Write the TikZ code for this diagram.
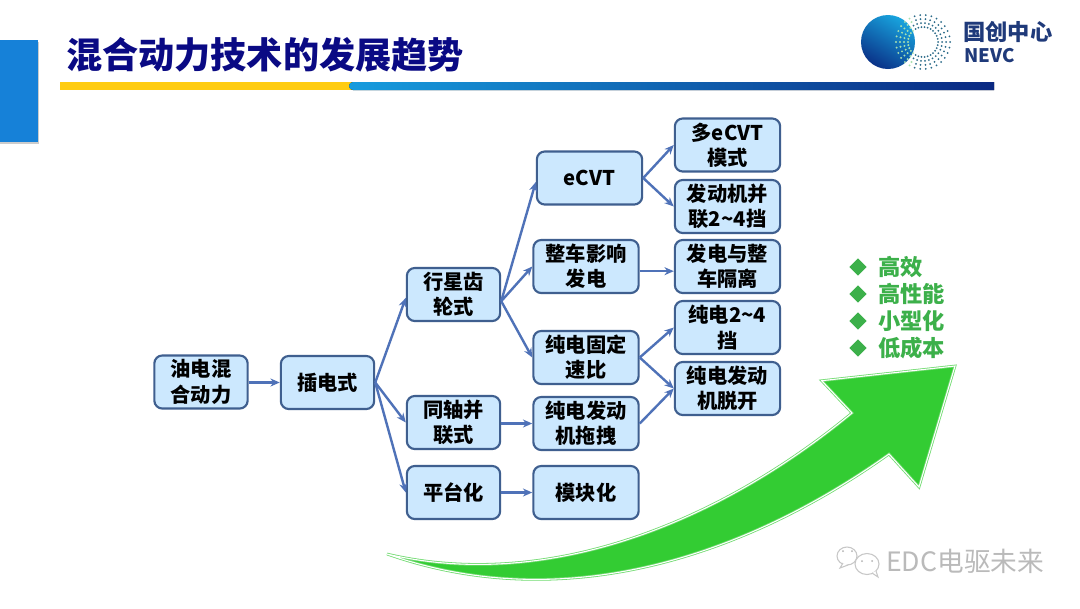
\documentclass[tikz,border=0pt]{standalone}
\usepackage{fontspec}
\setmainfont{Noto Sans CJK SC}
\usetikzlibrary{arrows.meta,shapes.geometric}
\definecolor{boxfill}{HTML}{CCE8FE}
\definecolor{boxline}{HTML}{3F5F8F}
\definecolor{conn}{HTML}{4F72B8}
\definecolor{navy}{HTML}{0A0A84}
\definecolor{bigg}{HTML}{33CC33}
\definecolor{textg}{HTML}{3CB04A}
\definecolor{logotxt}{HTML}{1F3A7A}
\definecolor{sidebar}{HTML}{1681D8}
\definecolor{ruley}{HTML}{FFCC11}
\definecolor{ruleb}{HTML}{169CDE}
\definecolor{ruled}{HTML}{0A2882}
\definecolor{ballb}{HTML}{18A4DE}
\definecolor{balld}{HTML}{0A3288}
\definecolor{dotd}{HTML}{2A6A88}
\definecolor{dotl}{HTML}{A8E0B0}
\tikzset{
  x=0.75pt,y=-0.75pt,
  nbox/.style={draw=boxline,fill=boxfill,line width=1.6pt,rounded corners=6pt,align=center,inner sep=0pt,
     font=\fontsize{15.2}{19}\selectfont\bfseries,text=black,minimum height=39.8pt},
  boxa/.style={nbox,minimum width=70pt},
  boxb/.style={nbox,minimum width=79pt},
  link/.style={draw=conn,line width=1.8pt,-{Stealth[length=7pt,width=6pt]}},
  bullet/.style={diamond,fill=textg,inner sep=0pt,minimum width=13pt,minimum height=13pt},
  gain/.style={text=textg,anchor=west,inner sep=0pt,font=\fontsize{16.7}{20}\selectfont\bfseries},
  wbubble/.style={draw=black!22,line width=0.8pt,fill=white},
}
\begin{document}
\begin{tikzpicture}
\path[use as bounding box,fill=white] (0,0) rectangle (1080,608);
% header
\fill[black!20] (0,42) rectangle (39,144);
\fill[sidebar] (0,40) rectangle (38,142);
\node[anchor=west,inner sep=0pt,text=navy,font=\fontsize{27.1}{30}\selectfont\bfseries] (title) at (66,55) {混合动力技术的发展趋势};
\fill[ruley] (60,82) rectangle (352,90);
\fill[left color=ruleb,right color=ruled] (353,82) arc[start angle=270,end angle=90,radius=4] -- (994,90) -- (994,82) -- cycle;
% logo
\shade[left color=ballb,right color=balld,shading angle=-30] (888,42) circle[radius=27];
\foreach \a in {0,12,...,348}{
  \foreach \r in {15,19,23,27}{
    \pgfmathsetmacro{\dotx}{923+\r*cos(\a)}
    \pgfmathsetmacro{\doty}{42+\r*sin(\a)}
    \ifdim\dotx pt<913pt
      \fill[dotl] (\dotx,\doty) circle[radius=1.1];
    \else
      \fill[dotd] (\dotx,\doty) circle[radius=1.0];
    \fi
  }
}
\node[anchor=west,inner sep=0pt,text=logotxt,font=\fontsize{16.7}{18}\selectfont\bfseries] (lg1) at (963,32) {国创中心};
\node[anchor=west,inner sep=0pt,text=logotxt,font=\fontsize{14}{15}\selectfont\bfseries] (lg2) at (964,56) {NEVC};
% big arrow
\path[fill=bigg,draw=bigg!70!white,line width=2pt,line join=miter]
 (387,554) .. controls (540,590) and (710,530) .. (852,413) -- (821.7,380.7) -- (955,366) -- (919,487) -- (889,454) .. controls (740,560) and (560,615) .. (387,554) -- cycle;
\path[draw=white,line width=0.8pt]
 (387,554) .. controls (540,590) and (710,530) .. (852,413) -- (821.7,380.7) -- (955,366) -- (919,487) -- (889,454) .. controls (740,560) and (560,615) .. (387,554) -- cycle;
% boxes
\node[boxa] (a) at (201,382) {油电混\\合动力};
\node[boxa] (b) at (327.5,382.5) {插电式};
\node[boxa] (c1) at (453.5,294.5) {行星齿\\轮式};
\node[boxa] (c2) at (453.5,422.5) {同轴并\\联式};
\node[boxa] (c3) at (453.5,492.5) {平台化};
\node[boxb] (d1) at (589.5,178) {eCVT};
\node[boxb] (d2) at (586,266.5) {整车影响\\发电};
\node[boxb] (d3) at (586,357.5) {纯电固定\\速比};
\node[boxb] (d4) at (586,423.5) {纯电发动\\机拖拽};
\node[boxb] (d5) at (586,492.5) {模块化};
\node[boxb] (e1) at (727.5,145) {多eCVT\\模式};
\node[boxb] (e2) at (727.5,206.5) {发动机并\\联2\textasciitilde 4挡};
\node[boxb] (e3) at (727.5,266.5) {发电与整\\车隔离};
\node[boxb] (e4) at (727.5,327.5) {纯电2\textasciitilde 4\\挡};
\node[boxb] (e5) at (727.5,388.5) {纯电发动\\机脱开};
% connectors
\draw[link] (a.east |- b.west) -- (b.west);
\draw[link] (b.east) -- ([yshift=-2.5pt]c1.west);
\draw[link] (b.east) -- (c2.west);
\draw[link] (b.east) -- (c3.west);
\draw[link] ([yshift=-5pt]c1.east) -- ([yshift=-3pt]d1.west);
\draw[link] ([yshift=-5pt]c1.east) -- (d2.west);
\draw[link] ([yshift=-5pt]c1.east) -- (d3.west);
\draw[link] (c2.east |- d4.west) -- (d4.west);
\draw[link] (c3.east) -- (d5.west);
\draw[link] (d1.east) -- (e1.west);
\draw[link] (d1.east) -- (e2.west);
\draw[link] ([yshift=-3.5pt]d2.east) -- ([yshift=-3.5pt]e3.west);
\draw[link] (d3.east) -- (e4.west);
\draw[link] (d3.east) -- (e5.west);
\draw[link] (d4.east) -- (e5.west);
% bullets
\node[bullet] (k1) at (858,267) {};
\node[bullet] (k2) at (858,294) {};
\node[bullet] (k3) at (858,321) {};
\node[bullet] (k4) at (858,348) {};
\node[gain] (g1) at (878,267) {高效};
\node[gain] (g2) at (878,294) {高性能};
\node[gain] (g3) at (878,321) {小型化};
\node[gain] (g4) at (878,348) {低成本};
% watermark
\draw[wbubble] (847,556) circle[x radius=10,y radius=9];
\draw[wbubble] (843,563) -- (840,568) -- (848,565);
\draw[wbubble] (867,564) circle[x radius=12,y radius=10.5];
\draw[wbubble] (872,573) -- (878,577) -- (876,571);
\fill[black!30] (843,551) circle[radius=1] (852,551) circle[radius=1] (862,561) circle[radius=1] (872,561) circle[radius=1];
\node[anchor=west,inner sep=0pt,text=black!27,font=\fontsize{20}{22}\selectfont] (wm) at (886,561) {EDC电驱未来};
\end{tikzpicture}
\end{document}
